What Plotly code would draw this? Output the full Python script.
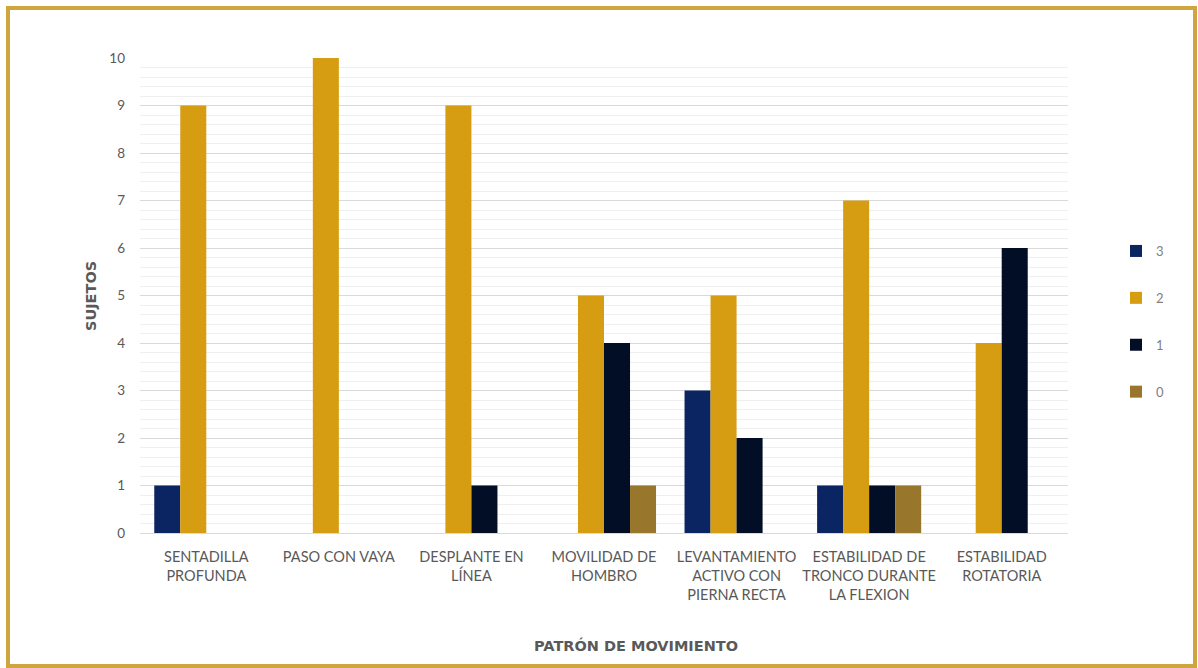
import plotly.graph_objects as go

# Movement patterns (x categories) and number of subjects per score
categories = [
    "SENTADILLA<br>PROFUNDA",
    "PASO CON VAYA",
    "DESPLANTE EN<br>LÍNEA",
    "MOVILIDAD DE<br>HOMBRO",
    "LEVANTAMIENTO<br>ACTIVO CON<br>PIERNA RECTA",
    "ESTABILIDAD DE<br>TRONCO DURANTE<br>LA FLEXION",
    "ESTABILIDAD<br>ROTATORIA",
]
score_3 = [1, 0, 0, 0, 3, 1, 0]
score_2 = [9, 10, 9, 5, 5, 7, 4]
score_1 = [0, 0, 1, 4, 2, 1, 6]
score_0 = [0, 0, 0, 1, 0, 1, 0]

series = [
    ("3", score_3, "#0b2462"),
    ("2", score_2, "#d69c12"),
    ("1", score_1, "#020d26"),
    ("0", score_0, "#98762c"),
]

W, H = 1198, 668
L, R, T, B = 140, 130, 58, 135

fig = go.Figure()
for name, vals, color in series:
    fig.add_trace(go.Bar(
        x=categories, y=vals, name=name, legendgroup=name,
        marker=dict(color=color, line=dict(width=0)),
    ))

font_family = "Lato, 'Open Sans', sans-serif"
title_font = "'DejaVu Sans', sans-serif"
pw = W - L - R
ph = H - T - B

def px_x(px):
    return (px - L) / pw

def px_y(py):
    return (H - B - py) / ph

fig.update_layout(
    width=W, height=H,
    margin=dict(l=L, r=R, t=T, b=B),
    paper_bgcolor="white", plot_bgcolor="white",
    barmode="group", bargap=0.215, bargroupgap=0,
    font=dict(family=font_family, color="#595959", size=13),
    showlegend=True,
    legend=dict(
        x=px_x(1116), y=px_y(236), xanchor="left", yanchor="top",
        font=dict(size=13, color="#7f7f7f"),
        tracegroupgap=27, itemwidth=30,
        bgcolor="rgba(0,0,0,0)",
    ),
    xaxis=dict(
        showline=True, linecolor="#d9d9d9", linewidth=1,
        ticks="", tickfont=dict(size=14.5, color="#595959"),
        ticklabelstandoff=11,
        showgrid=False,
    ),
    yaxis=dict(
        range=[0, 10], dtick=1, showgrid=True, gridcolor="#d9d9d9",
        gridwidth=1, zeroline=False, ticks="", ticklabelstandoff=14,
        tickfont=dict(size=13.5, color="#595959"),
        minor=dict(dtick=0.2, showgrid=True, gridcolor="#efefef", gridwidth=1),
    ),
    annotations=[
        dict(text="<b>SUJETOS</b>", textangle=-90, xref="paper", yref="paper",
             x=px_x(91), y=px_y(296), showarrow=False,
             font=dict(family=title_font, size=14.5, color="#595959"),
             xanchor="center", yanchor="middle"),
        dict(text="<b>PATRÓN DE MOVIMIENTO</b>", xref="paper", yref="paper",
             x=px_x(636), y=px_y(645), showarrow=False,
             font=dict(family=title_font, size=14.5, color="#595959"),
             xanchor="center", yanchor="middle"),
    ],
    shapes=[
        dict(type="rect", xref="paper", yref="paper",
             x0=px_x(8), x1=px_x(1195), y0=px_y(666), y1=px_y(8),
             line=dict(color="#cfa63e", width=4), fillcolor="rgba(0,0,0,0)",
             layer="below"),
    ],
)

fig.write_html("out.html")
